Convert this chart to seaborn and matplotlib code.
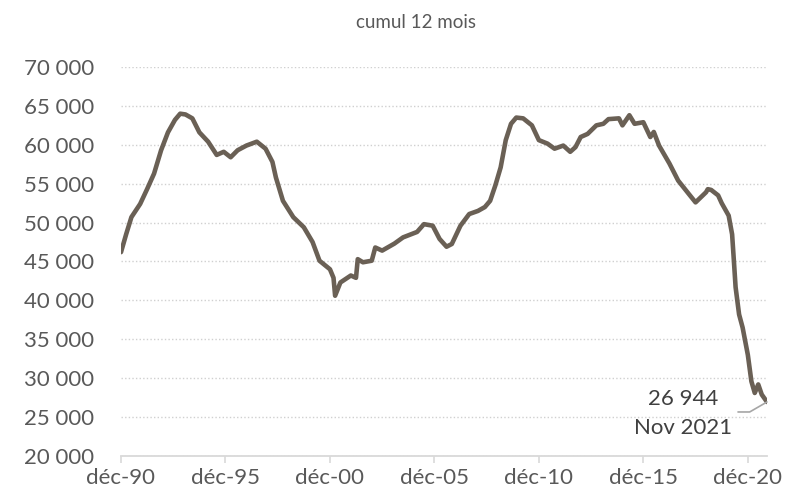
import pandas as pd
import matplotlib
matplotlib.use("Agg")
import matplotlib.pyplot as plt
import seaborn as sns

# cumul 12 mois
MONTHS = [
    "1990-12", "1991-03", "1991-06", "1991-11", "1992-03", "1992-07", "1992-11",
    "1993-03", "1993-07", "1993-10", "1994-01", "1994-05", "1994-09", "1995-02",
    "1995-07", "1995-11", "1996-03", "1996-07", "1996-12", "1997-06", "1997-11",
    "1998-03", "1998-05", "1998-09", "1999-03", "1999-09", "2000-02", "2000-06",
    "2000-12", "2001-02", "2001-03", "2001-06", "2001-12", "2002-03", "2002-04",
    "2002-07", "2002-12", "2003-02", "2003-06", "2004-01", "2004-06", "2005-02",
    "2005-06", "2005-11", "2006-03", "2006-07", "2006-10", "2007-03", "2007-08",
    "2008-01", "2008-05", "2008-08", "2008-11", "2009-02", "2009-05", "2009-08",
    "2009-11", "2010-03", "2010-08", "2010-12", "2011-05", "2011-09", "2012-02",
    "2012-06", "2012-09", "2012-12", "2013-04", "2013-09", "2014-01", "2014-04",
    "2014-10", "2014-12", "2015-04", "2015-07", "2015-12", "2016-04", "2016-06",
    "2016-09", "2017-03", "2017-08", "2018-02", "2018-06", "2018-12", "2019-01",
    "2019-03", "2019-07", "2019-09", "2020-01", "2020-03", "2020-04", "2020-05",
    "2020-07", "2020-09", "2020-12", "2021-02", "2021-04", "2021-06", "2021-08",
    "2021-11",
]
VALUES = [
    46200, 48500, 50700, 52400, 54300, 56300, 59300,
    61600, 63200, 64000, 63900, 63400, 61600, 60400,
    58700, 59100, 58400, 59300, 59900, 60400, 59500,
    57800, 55800, 52800, 50700, 49400, 47500, 45100,
    44000, 42900, 40600, 42300, 43200, 42900, 45300,
    44900, 45100, 46800, 46400, 47300, 48100, 48800,
    49800, 49600, 47900, 46900, 47250, 49600, 51100,
    51500, 52000, 52800, 54800, 57100, 60600, 62700,
    63500, 63400, 62500, 60600, 60150, 59500, 59900,
    59100, 59700, 61000, 61400, 62500, 62700, 63300,
    63400, 62500, 63800, 62700, 62900, 61000, 61650,
    59900, 57600, 55400, 53700, 52600, 53900, 54300,
    54200, 53500, 52500, 50900, 48500, 45100, 41700,
    38200, 36500, 33000, 29600, 28100, 29200, 27900,
    26944,
]
TICK_YEARS = [1990, 1995, 2000, 2005, 2010, 2015, 2020]
TICK_LABELS = ["déc-90", "déc-95", "déc-00", "déc-05", "déc-10", "déc-15", "déc-20"]
Y_TICKS = list(range(20000, 70001, 5000))
LAST_LABEL = "26 944"
LAST_DATE_LABEL = "Nov 2021"

LINE_COLOR = "#6A6055"
TEXT_COLOR = "#595959"
GRID_COLOR = "#D0D0D0"

df = pd.DataFrame({"date": pd.to_datetime(MONTHS), "valeur": VALUES})

sns.set_theme(style="white")
plt.rcParams["font.family"] = ["Lato", "DejaVu Sans"]

fig = plt.figure(figsize=(7.92, 4.96), dpi=100)
ax = fig.add_axes([121 / 792, 1 - 456 / 496, 646 / 792, 389 / 496])

sns.lineplot(data=df, x="date", y="valeur", ax=ax, color=LINE_COLOR, linewidth=3.3,
             solid_capstyle="round", solid_joinstyle="round")

ax.set_xlim(df["date"].iloc[0], df["date"].iloc[-1])
ax.set_ylim(Y_TICKS[0], Y_TICKS[-1])
ax.set_yticks(Y_TICKS)
ax.set_yticklabels([f"{v:,}".replace(",", " ") for v in Y_TICKS])
ax.set_xticks(pd.to_datetime([f"{y}-12-01" for y in TICK_YEARS]))
ax.set_xticklabels(TICK_LABELS)
ax.set_xlabel("")
ax.set_ylabel("")

ax.yaxis.grid(True, color=GRID_COLOR, linestyle=(0, (1, 1.6)), linewidth=1)
ax.xaxis.grid(False)
for s in ["left", "top", "right"]:
    ax.spines[s].set_visible(False)
ax.spines["bottom"].set_color("#D9D9D9")
ax.spines["bottom"].set_linewidth(1.3)
ax.tick_params(axis="x", length=5, width=1.2, color="#D9D9D9", direction="out",
               pad=4, labelsize=16, labelcolor=TEXT_COLOR, bottom=True)
ax.tick_params(axis="y", length=0, pad=19, labelsize=16, labelcolor=TEXT_COLOR)

last = (df["date"].iloc[-1], df["valeur"].iloc[-1])
ax.annotate("", xy=last, xytext=(-29, -10), textcoords="offset pixels",
            arrowprops=dict(arrowstyle="-", color="#A6A6A6", lw=1.2, shrinkA=0, shrinkB=0,
                            connectionstyle="angle,angleA=0,angleB=30,rad=0"))
ax.annotate(LAST_LABEL, xy=last, xytext=(-84, 3), textcoords="offset pixels",
            ha="center", va="center", fontsize=16, color="#404040", annotation_clip=False)
ax.annotate(LAST_DATE_LABEL, xy=last, xytext=(-84, -26), textcoords="offset pixels",
            ha="center", va="center", fontsize=16, color="#404040", annotation_clip=False)

fig.text(416 / 792, 1 - 22 / 496, "cumul 12 mois", ha="center", va="center",
         fontsize=13.5, color=TEXT_COLOR)

fig.savefig("out.png", dpi=100)
